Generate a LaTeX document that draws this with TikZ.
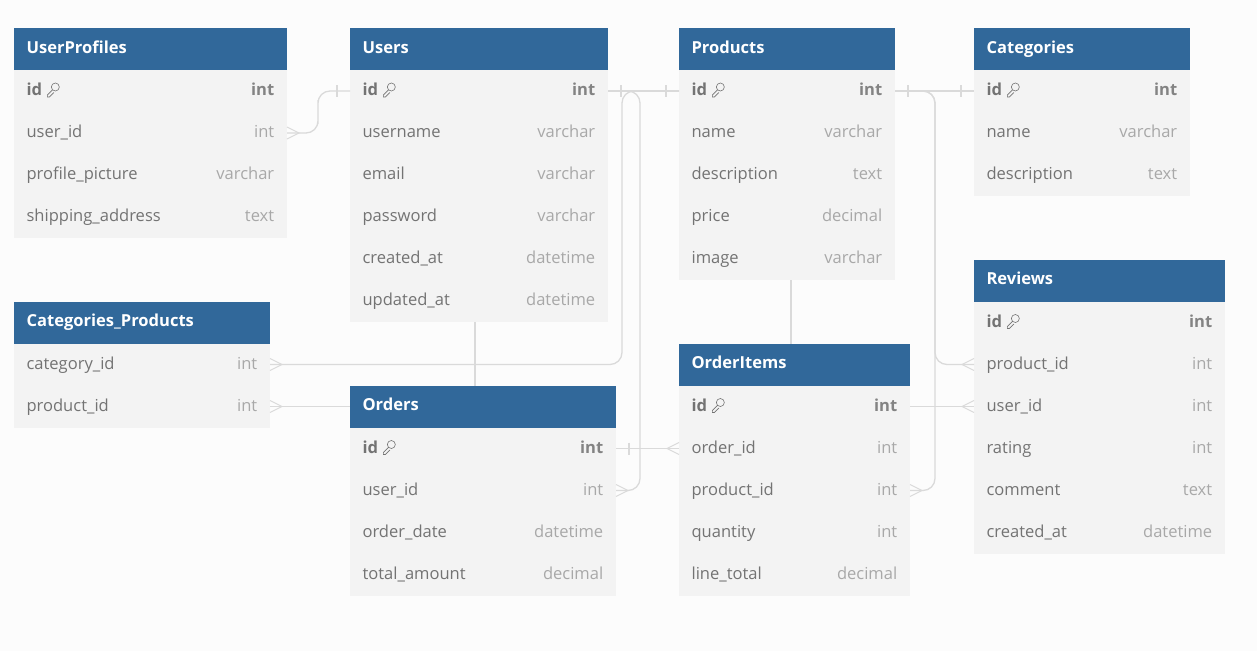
\documentclass[tikz,border=0pt]{standalone}
\usepackage{fontspec}
\setmainfont{Open Sans}
\usetikzlibrary{positioning}

\definecolor{pagebg}{HTML}{FCFCFC}
\definecolor{headblue}{HTML}{31689A}
\definecolor{rowgrey}{HTML}{F3F3F3}
\definecolor{namegrey}{HTML}{737373}
\definecolor{typegrey}{HTML}{A8A8A8}
\definecolor{linegrey}{HTML}{DADADA}

\newcommand{\kfield}[1]{\textbf{#1}}
\newcommand{\ktype}[1]{\textcolor{namegrey!70!typegrey}{\textbf{#1}}}

\newcommand{\dbtable}[5]{
    \node[tablehead,minimum width=#4*0.75pt] (#1-0) at (#3) {};
    \node[tabletitle,anchor=west] (#1-0-title) at ([xshift=12.3*0.75pt]#1-0.west) {#2};
    \foreach \fieldname/\fieldtype [count=\i,remember=\i as \prevrow (initially 0)] in {#5} {
        \node[fieldrow,minimum width=#4*0.75pt,below=0pt of #1-\prevrow] (#1-\i) {};
        \node[fieldname,anchor=west] (#1-\i-name) at ([xshift=12.3*0.75pt]#1-\i.west) {\fieldname};
        \node[fieldtype,anchor=east] (#1-\i-type) at ([xshift=-12.5*0.75pt]#1-\i.east) {\fieldtype};
    }
}

\begin{document}
\begin{tikzpicture}
        [
            x=0.75pt,
            y=-0.75pt,
            tablehead/.style = {
                rectangle,
                anchor=north west,
                fill=headblue,
                minimum height=31.5pt,
                inner sep=0pt,
                outer sep=0pt
            },
            tabletitle/.style = {
                text=white,
                font=\fontsize{12.4pt}{15pt}\selectfont\bfseries,
                inner sep=0pt,
                text height=9.3pt,
                text depth=2.6pt
            },
            fieldrow/.style = {
                rectangle,
                fill=rowgrey,
                minimum height=31.5pt,
                inner sep=0pt,
                outer sep=0pt
            },
            fieldname/.style = {
                text=namegrey,
                font=\fontsize{12.4pt}{15pt}\selectfont,
                inner sep=0pt,
                text height=9.6pt,
                text depth=2.6pt
            },
            fieldtype/.style = {
                fieldname,
                text=typegrey
            },
            relation/.style = {
                draw=linegrey,
                line width=1pt,
                rounded corners=9pt
            },
            crowfoot/.pic = {
                \draw[linegrey,line width=0.8pt] (0,-6) -- (12,0) -- (0,6);
            },
            onebar/.pic = {
                \draw[linegrey,line width=0.8pt] (13,-6) -- (13,6);
            },
            keyicon/.pic = {
                \draw[namegrey,line width=0.45pt] (13,-4) circle (3pt)
                    (10,-1) -- (5,4) -- (5,6) -- (7,6) -- (11.5,1.5);
            }
        ]

        \useasboundingbox[fill=pagebg] (0,0) rectangle (1257,651);

        \coordinate (jog) at (318,112);
        \coordinate (busa) at (622,91);
        \coordinate (busb) at (640,91);
        \coordinate (busc) at (935,200);
        \coordinate (usersorders) at (475,350);
        \coordinate (productsitems) at (791,310);

        \dbtable{userprofiles}{UserProfiles}{14,28}{273}{
            \kfield{id}/\ktype{int},user\_id/int,profile\_picture/varchar,shipping\_address/text}
        \dbtable{users}{Users}{350,28}{258}{
            \kfield{id}/\ktype{int},username/varchar,email/varchar,password/varchar,created\_at/datetime,updated\_at/datetime}
        \dbtable{products}{Products}{679,28}{216}{
            \kfield{id}/\ktype{int},name/varchar,description/text,price/decimal,image/varchar}
        \dbtable{categories}{Categories}{974,28}{216}{
            \kfield{id}/\ktype{int},name/varchar,description/text}
        \dbtable{reviews}{Reviews}{974,259.5}{251}{
            \kfield{id}/\ktype{int},product\_id/int,user\_id/int,rating/int,comment/text,created\_at/datetime}
        \dbtable{catprod}{Categories\_Products}{14,301.5}{256}{
            category\_id/int,product\_id/int}
        \dbtable{orders}{Orders}{350,385.5}{266}{
            \kfield{id}/\ktype{int},user\_id/int,order\_date/datetime,total\_amount/decimal}
        \dbtable{orderitems}{OrderItems}{679,343.5}{231}{
            \kfield{id}/\ktype{int},order\_id/int,product\_id/int,quantity/int,line\_total/decimal}

        \foreach \tablename in {userprofiles,users,products,categories,reviews,orders,orderitems}
            \pic at (\tablename-1-name.east) {keyicon};

        \path[relation] (userprofiles-2.east) -| (jog) |- (users-1.west);
        \path[relation] (users-1.east) -- (products-1.west);
        \path[relation] (catprod-1.east) -| (busa) -- (products-1.west);
        \path[relation] (orders-2.east) -| (busb) -- (users-1.east);
        \path[relation] (catprod-2.east) -- (catprod-2.east -| orders-0.west);
        \path[relation] (usersorders |- users-6.south) -- (usersorders |- orders-0.north);
        \path[relation] (productsitems |- products-5.south) -- (productsitems |- orderitems-0.north);
        \path[relation] (orders-1.east) -- (orderitems-2.west);
        \path[relation] (products-1.east) -- (categories-1.west);
        \path[relation] (products-1.east) -| (busc) |- (reviews-2.west);
        \path[relation] (orderitems-3.east) -| (busc) |- (products-1.east);
        \path[relation] (orderitems-1.east) -- (reviews-3.west);

        \pic at (userprofiles-2.east) {crowfoot};
        \pic[xscale=-1] at (users-1.west) {onebar};
        \pic at (users-1.east) {onebar};
        \pic[xscale=-1] at (products-1.west) {onebar};
        \pic at (catprod-1.east) {crowfoot};
        \pic at (catprod-2.east) {crowfoot};
        \pic at (orders-1.east) {onebar};
        \pic[xscale=-1] at (orderitems-2.west) {crowfoot};
        \pic at (orders-2.east) {crowfoot};
        \pic at (products-1.east) {onebar};
        \pic[xscale=-1] at (categories-1.west) {onebar};
        \pic[xscale=-1] at (reviews-2.west) {crowfoot};
        \pic[xscale=-1] at (reviews-3.west) {crowfoot};
        \pic at (orderitems-3.east) {crowfoot};
    \end{tikzpicture}
\end{document}
